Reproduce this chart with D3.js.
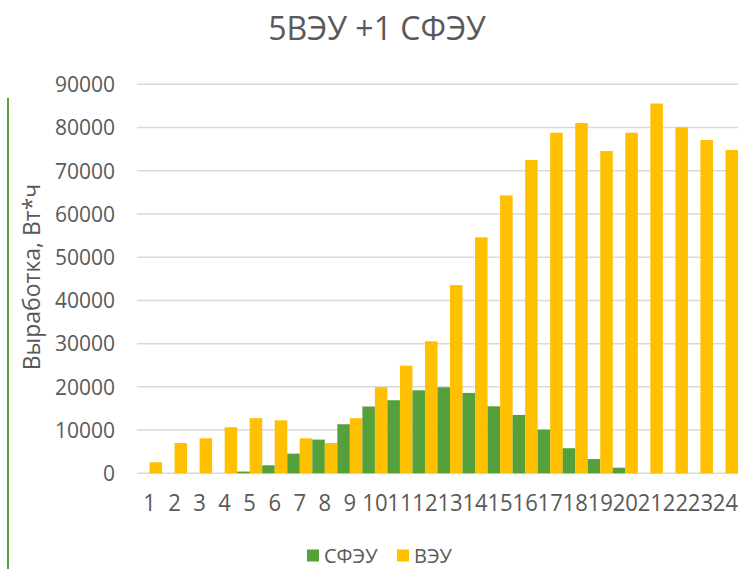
<!DOCTYPE html>
<html>
<head>
<meta charset="utf-8">
<script src="https://cdn.jsdelivr.net/npm/d3@7"></script>
<style>
  body { margin: 0; background: #fff; }
  svg text { fill: #595959; }
</style>
</head>
<body>
<svg id="chart" width="756" height="569"></svg>
<script>
// chart data
const hours = d3.range(1, 25).map(String);
const sfeu = [0, 0, 0, 0, 400, 1850, 4550, 7800, 11350, 15450, 16900, 19200, 19900, 18600, 15500, 13500, 10100, 5800, 3300, 1300, 0, 0, 0, 0];
const veu = [2550, 7000, 8100, 10650, 12750, 12250, 8100, 7000, 12750, 19900, 24900, 30550, 43550, 54600, 64300, 72500, 78800, 81050, 74550, 78800, 85550, 80050, 77100, 74800];
const seriesNames = ["СФЭУ", "ВЭУ"];
const colors = ["#55A03A", "#FFC000"];
const yTicks = d3.range(0, 90001, 10000);

const svg = d3.select("#chart");
const mainFont = "'Open Sans', sans-serif";

// plot area
const plotLeft = 137, plotRight = 738, plotTop = 84.3, plotBottom = 473.3;

const x = d3.scaleBand().domain(hours).range([plotLeft, plotRight]).padding(0);
const xInner = d3.scaleBand().domain(seriesNames).range([0, x.bandwidth()]).padding(0);
const y = d3.scaleLinear().domain([0, 90000]).range([plotBottom, plotTop]);

// title
svg.append("text")
    .attr("x", 377)
    .attr("y", 40)
    .attr("text-anchor", "middle")
    .attr("font-family", mainFont)
    .attr("font-size", "32px")
    .text("5ВЭУ +1 СФЭУ");

// odd green line on the left edge
svg.append("line")
    .attr("x1", 8).attr("x2", 8)
    .attr("y1", 98).attr("y2", 569)
    .attr("stroke", "#55A03A")
    .attr("stroke-width", 2);

// gridlines
svg.append("g")
    .selectAll("line")
    .data(yTicks)
    .enter()
    .append("line")
    .attr("x1", plotLeft).attr("x2", plotRight)
    .attr("y1", d => y(d)).attr("y2", d => y(d))
    .attr("stroke", "#d9d9d9")
    .attr("stroke-width", 1.5);

// y axis
const yAxis = svg.append("g")
    .attr("transform", `translate(${plotLeft - 22},0)`)
    .call(d3.axisLeft(y).tickValues(yTicks).tickSize(0).tickPadding(0).tickFormat(d3.format("d")));
yAxis.select(".domain").remove();
yAxis.selectAll("text")
    .attr("font-family", mainFont)
    .attr("font-size", "21px")
    .attr("dy", "0.35em")
    .style("fill", "#595959");

// x axis
const xAxis = svg.append("g")
    .attr("transform", `translate(0,${plotBottom})`)
    .call(d3.axisBottom(x).tickSize(0).tickPadding(21));
xAxis.select(".domain").remove();
xAxis.selectAll("text")
    .attr("font-family", mainFont)
    .attr("font-size", "24px")
    .attr("transform", "scale(0.92,1)")
    .style("fill", "#595959");

// y axis title
svg.append("text")
    .attr("transform", "translate(40,277) rotate(-90)")
    .attr("text-anchor", "middle")
    .attr("font-family", mainFont)
    .attr("font-size", "23px")
    .text("Выработка, Вт*ч");

// bars
const rows = hours.map((h, i) => ({ hour: h, values: [sfeu[i], veu[i]] }));
const groups = svg.append("g")
    .selectAll("g")
    .data(rows)
    .enter()
    .append("g")
    .attr("transform", d => `translate(${x(d.hour)},0)`);

groups.selectAll("rect")
    .data(d => d.values.map((v, k) => ({ name: seriesNames[k], value: v, color: colors[k] })))
    .enter()
    .append("rect")
    .attr("x", d => xInner(d.name))
    .attr("width", xInner.bandwidth())
    .attr("y", d => y(d.value))
    .attr("height", d => plotBottom - y(d.value))
    .attr("fill", d => d.color);

// legend
const legendX = [307, 397];
const legend = svg.append("g")
    .selectAll("g")
    .data(seriesNames)
    .enter()
    .append("g")
    .attr("transform", (d, i) => `translate(${legendX[i]},549.5)`);

legend.append("rect")
    .attr("width", 12)
    .attr("height", 12)
    .attr("fill", (d, i) => colors[i]);

legend.append("text")
    .attr("x", 17)
    .attr("y", 6)
    .attr("dy", "0.35em")
    .attr("font-family", mainFont)
    .attr("font-size", "20px")
    .text(d => d);
</script>
</body>
</html>
